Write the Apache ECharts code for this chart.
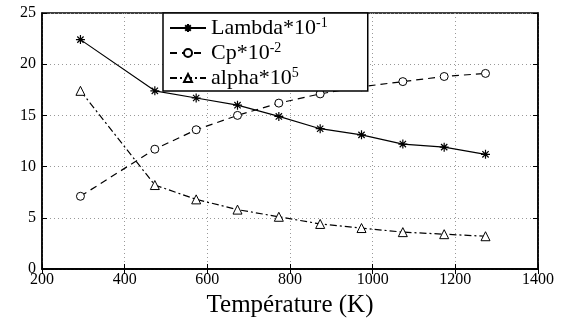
<!DOCTYPE html>
<html>
<head>
<meta charset="utf-8">
<script src="https://cdn.jsdelivr.net/npm/echarts@6/dist/echarts.min.js"></script>
<style>
  html, body { margin: 0; padding: 0; background: #fff; }
  #chart { width: 571px; height: 323px; }
</style>
</head>
<body>
<div id="chart"></div>
<script>
// temperatures (K)
const temps = [293, 473, 573, 673, 773, 873, 973, 1073, 1173, 1273]
// series values
const lambdaVals = [22.4, 17.4, 16.7, 16.0, 14.9, 13.7, 13.1, 12.2, 11.9, 11.2]
const cpVals = [7.1, 11.7, 13.6, 15.0, 16.2, 17.1, 17.8, 18.3, 18.8, 19.1]
const alphaVals = [17.4, 8.2, 6.8, 5.8, 5.1, 4.4, 4.0, 3.6, 3.4, 3.2]
const seriesNames = ['Lambda', 'Cp', 'alpha']
const exponents = ['-1', '-2', '5']

const font = 'Liberation Serif'
const star = 'path://M0,-10L0,10M-10,0L10,0M-7,-7L7,7M-7,7L7,-7'

const chart = echarts.init(document.getElementById('chart'))

function pairs(vals) {
  return temps.map((t, i) => [t, vals[i]])
}

const tickStyle = { show: true, inside: true, length: 5, lineStyle: { color: '#000', width: 1 } }
const gridLine = { show: true, lineStyle: { color: '#999', type: [1, 3], width: 1 } }

chart.setOption({
  animation: false,
  grid: {
    left: 42,
    right: 33,
    top: 13,
    bottom: 38,
    show: true,
    borderColor: '#000',
    borderWidth: 1.5
  },
  legend: {
    orient: 'vertical',
    left: 163,
    top: 13,
    padding: [3, 40, 2, 6],
    itemGap: 2,
    itemWidth: 36,
    itemHeight: 10,
    borderColor: '#000',
    borderWidth: 1.5,
    backgroundColor: '#fff',
    textStyle: {
      fontFamily: font,
      fontSize: 22,
      color: '#000',
      rich: {
        b: { fontFamily: font, fontSize: 22, lineHeight: 24, color: '#000' },
        s: { fontFamily: font, fontSize: 14, lineHeight: 14, color: '#000', verticalAlign: 'top' }
      }
    },
    formatter: name => {
      // exponent as superscript
      const exp = exponents[seriesNames.indexOf(name)]
      return '{b|' + name + '*10}{s|' + exp + '}'
    },
    data: seriesNames
  },
  xAxis: [{
    type: 'value',
    min: 200,
    max: 1400,
    interval: 200,
    name: 'Température (K)',
    nameLocation: 'middle',
    nameGap: 24,
    nameTextStyle: { fontFamily: font, fontSize: 25, color: '#000' },
    axisLine: { lineStyle: { color: '#000', width: 1.5 } },
    axisTick: tickStyle,
    axisLabel: { fontFamily: font, fontSize: 16, color: '#000', margin: 3, formatter: v => String(v) },
    splitLine: gridLine
  }, {
    type: 'value',
    position: 'top',
    min: 200,
    max: 1400,
    interval: 200,
    axisLine: { show: true, lineStyle: { color: '#000', width: 1.5 } },
    axisTick: tickStyle,
    axisLabel: { show: false },
    splitLine: { show: false }
  }],
  yAxis: [{
    type: 'value',
    min: 0,
    max: 25,
    interval: 5,
    axisLine: { show: true, lineStyle: { color: '#000', width: 1.5 } },
    axisTick: tickStyle,
    axisLabel: { fontFamily: font, fontSize: 16, color: '#000', margin: 6 },
    splitLine: gridLine
  }, {
    type: 'value',
    position: 'right',
    min: 0,
    max: 25,
    interval: 5,
    axisLine: { show: true, lineStyle: { color: '#000', width: 1.5 } },
    axisTick: tickStyle,
    axisLabel: { show: false },
    splitLine: { show: false }
  }],
  series: [{
    name: seriesNames[0],
    type: 'line',
    data: pairs(lambdaVals),
    symbol: star,
    symbolSize: 9,
    color: '#000',
    itemStyle: { color: '#000', borderColor: '#000', borderWidth: 1.2 },
    lineStyle: { color: '#000', width: 1.2, type: 'solid' }
  }, {
    name: seriesNames[1],
    type: 'line',
    data: pairs(cpVals),
    symbol: 'circle',
    symbolSize: 8,
    color: '#000',
    itemStyle: { color: '#fff', borderColor: '#000', borderWidth: 1 },
    lineStyle: { color: '#000', width: 1.2, type: [7, 5] }
  }, {
    name: seriesNames[2],
    type: 'line',
    data: pairs(alphaVals),
    symbol: 'triangle',
    symbolSize: 9,
    color: '#000',
    itemStyle: { color: '#fff', borderColor: '#000', borderWidth: 1 },
    lineStyle: { color: '#000', width: 1.2, type: [7, 3, 2, 3] }
  }]
})
</script>
</body>
</html>
